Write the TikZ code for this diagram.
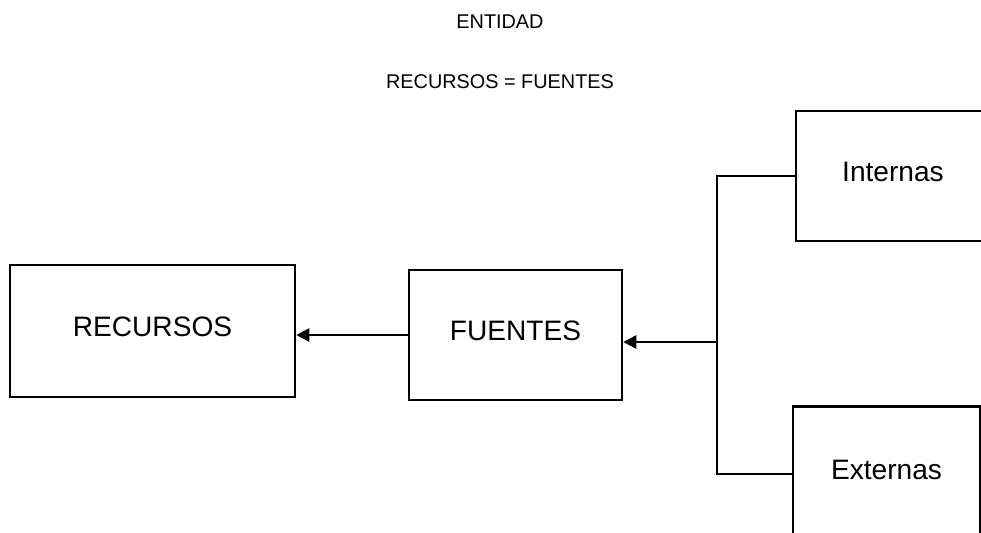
\documentclass[tikz,border=0pt]{standalone}
\usepackage{fontspec}
\setmainfont{Liberation Sans}
\usetikzlibrary{arrows.meta}

\begin{document}
\begin{tikzpicture}[
  x=0.02cm, y=-0.02cm,
  box/.style={draw, line width=1.4pt, inner sep=0pt, text depth=0.45em,
              font=\fontsize{16}{19}\selectfont},
  titulo/.style={font=\fontsize{11.3}{13}\selectfont, inner sep=0pt},
  arr/.style={-{Triangle[length=7.5pt, width=7.5pt]}, line width=1.4pt},
  conn/.style={line width=1.4pt}
]
  \useasboundingbox (0,0) rectangle (981,532);
  \clip (0,0) rectangle (981,532);

  \node[titulo] (tit) at (500,22) {ENTIDAD};
  \node[titulo] (sub) at (500,82) {RECURSOS = FUENTES};

  \node[box, minimum width=5.7cm, minimum height=2.64cm] (rec) at (152.5,331) {RECURSOS};
  \node[box, minimum width=4.26cm, minimum height=2.6cm] (fue) at (515.5,335) {FUENTES};
  \node[box, minimum width=3.88cm, minimum height=2.6cm] (int) at (893,176) {Internas};
  \node[box, minimum width=3.74cm, minimum height=2.7cm] (ext) at (886.5,474) {Externas};

  \coordinate (jun) at (717,342);

  \draw[arr] (fue.west) -- (fue.west -| rec.east);
  \draw[arr] (jun) -- (jun -| fue.east);
  \draw[conn] (int.west) -| (jun) |- (ext.west);
\end{tikzpicture}
\end{document}
